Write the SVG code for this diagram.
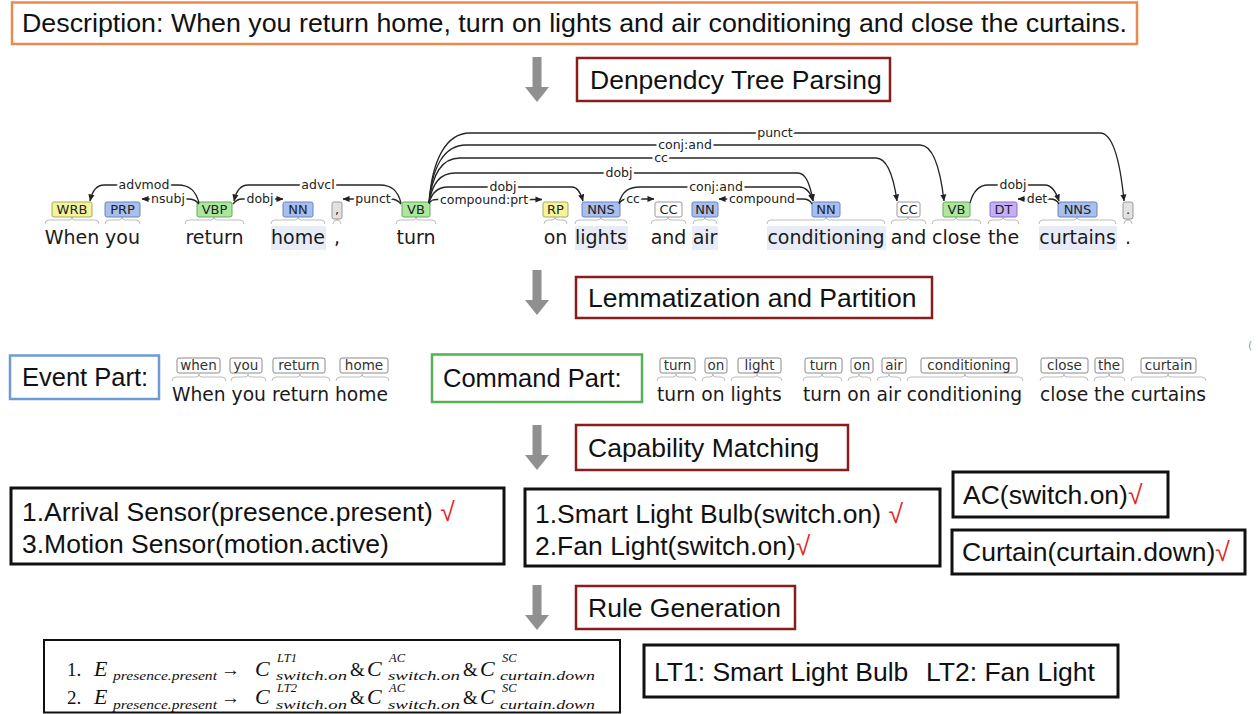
<svg xmlns="http://www.w3.org/2000/svg" width="1259" height="714" viewBox="0 0 1259 714">
  <style>
    .sans { font-family: "Liberation Sans", Arial, sans-serif; fill: #111; }
    .big { font-size: 26.5px; }
    .step { fill: #fff; stroke: #8b1c1c; stroke-width: 2.5; }
    .cap { fill: #fff; stroke: #111; stroke-width: 3; }
    .down { fill: #909090; }
    .chk { fill: #e02828; }
    .dv { font-family: "DejaVu Sans", Verdana, sans-serif; }
    .word { font-size: 19px; fill: #1a1a1a; text-anchor: middle; }
    .lword { font-size: 18.7px; fill: #1a1a1a; }
    .tag { font-size: 13px; fill: #222; text-anchor: middle; }
    .ltag { font-size: 13.5px; fill: #333; text-anchor: middle; }
    .ltagbox { fill: #fff; stroke: #8a8a8a; stroke-width: 1; }
    .brace { fill: none; stroke: #bdbdbd; stroke-width: 1; }
    .arc { fill: none; stroke: #262626; stroke-width: 1.3; }
    .arclbl { font-size: 12.5px; fill: #222; text-anchor: middle; stroke: #fff; stroke-width: 5; paint-order: stroke; stroke-linejoin: round; }
    .t-wrb { fill: #f4f49a; stroke: #a8a860; }
    .t-nn { fill: #a8bfee; stroke: #6a82c2; }
    .t-vb { fill: #abe89e; stroke: #68a55c; }
    .t-cc { fill: #fff; stroke: #999; }
    .t-dt { fill: #c7aff5; stroke: #8a6fcf; }
    .t-pu { fill: #e2e2e2; stroke: #999; }
    .tb { stroke-width: 1; }
    .hl { fill: #e7ecf7; }
    .serif { font-family: "Liberation Serif", "Times New Roman", serif; fill: #111; }
    .m { font-size: 19px; }
    .mi { font-size: 22px; font-style: italic; }
    .sub { font-size: 13px; font-style: italic; }
    .sup { font-size: 12.5px; font-style: italic; }
  </style>
  <defs>
    <marker id="ah" viewBox="0 0 8 8" refX="7.5" refY="4" markerWidth="7" markerHeight="7" markerUnits="userSpaceOnUse" orient="auto">
      <path d="M0,0.5 L8,4 L0,7.5 z" fill="#222"/>
    </marker>
    <path id="downArrow" d="M-4.5,0 H4.5 V30 H12 L0,45 L-12,30 H-4.5 Z"/>
  </defs>

  <rect width="1259" height="714" fill="#fff"/>

  <!-- sentence -->
  <g id="description">
    <rect x="12" y="2.5" width="1125" height="41.5" fill="#fff" stroke="#ea8a4c" stroke-width="2.5"/>
    <text class="sans" x="22" y="32" font-size="25" textLength="1105" lengthAdjust="spacingAndGlyphs">Description: When you return home, turn on lights and air conditioning and close the curtains.</text>
  </g>

  <!-- process steps -->
  <g id="step-parse">
    <use href="#downArrow" x="537" y="57" class="down"/>
    <rect class="step" x="577" y="58" width="313" height="43"/>
    <text class="sans big" x="590" y="89">Denpendcy Tree Parsing</text>
  </g>
  <g id="step-lemma">
    <use href="#downArrow" x="537" y="270" class="down"/>
    <rect class="step" x="576" y="277" width="356" height="41"/>
    <text class="sans big" x="588" y="307">Lemmatization and Partition</text>
  </g>
  <g id="step-capability">
    <use href="#downArrow" x="537" y="425" class="down"/>
    <rect class="step" x="576" y="425" width="272" height="45"/>
    <text class="sans big" x="588" y="457">Capability Matching</text>
  </g>
  <g id="step-rule">
    <use href="#downArrow" x="537" y="585" class="down"/>
    <rect class="step" x="576" y="586" width="219" height="43"/>
    <text class="sans big" x="588" y="617">Rule Generation</text>
  </g>

  <!-- dependency tree: token highlights -->
  <g id="token-highlights">
    <rect class="hl" x="271" y="226" width="55" height="24"/>
    <rect class="hl" x="575" y="226" width="53" height="24"/>
    <rect class="hl" x="692" y="226" width="26" height="24"/>
    <rect class="hl" x="767" y="226" width="119" height="24"/>
    <rect class="hl" x="1039" y="226" width="78" height="24"/>
  </g>

  <!-- dependency tree: tag-to-token braces -->
  <g id="token-braces" class="brace">
    <path d="M45,224 Q45,220 49,220 H69 Q72,220 72,217 Q72,220 75,220 H95 Q99,220 99,224"/>
    <path d="M105,224 Q105,220 109,220 H119 Q122,220 122,217 Q122,220 125,220 H136 Q140,220 140,224"/>
    <path d="M185,224 Q185,220 189,220 H211 Q214,220 214,217 Q214,220 217,220 H240 Q244,220 244,224"/>
    <path d="M271,224 Q271,220 275,220 H295 Q298,220 298,217 Q298,220 301,220 H321 Q325,220 325,224"/>
    <path d="M333,224 Q333,220 337,220 Q337,220 337,218 Q337,220 337,220 Q341,220 341,224"/>
    <path d="M396,224 Q396,220 400,220 H413 Q416,220 416,217 Q416,220 419,220 H432 Q436,220 436,224"/>
    <path d="M544,224 Q544,220 548,220 H552 Q555,220 555,217 Q555,220 558,220 H563 Q567,220 567,224"/>
    <path d="M575,224 Q575,220 579,220 H598 Q601,220 601,217 Q601,220 604,220 H623 Q627,220 627,224"/>
    <path d="M651,224 Q651,220 655,220 H665 Q668,220 668,217 Q668,220 671,220 H682 Q686,220 686,224"/>
    <path d="M693,224 Q693,220 697,220 H702 Q705,220 705,217 Q705,220 708,220 H713 Q717,220 717,224"/>
    <path d="M767,224 Q767,220 771,220 H823 Q826,220 826,217 Q826,220 829,220 H881 Q885,220 885,224"/>
    <path d="M891,224 Q891,220 895,220 H905 Q908,220 908,217 Q908,220 911,220 H922 Q926,220 926,224"/>
    <path d="M932,224 Q932,220 936,220 H953 Q956,220 956,217 Q956,220 959,220 H977 Q981,220 981,224"/>
    <path d="M988,224 Q988,220 992,220 H1000 Q1003,220 1003,217 Q1003,220 1006,220 H1015 Q1019,220 1019,224"/>
    <path d="M1039,224 Q1039,220 1043,220 H1074 Q1077,220 1077,217 Q1077,220 1080,220 H1112 Q1116,220 1116,224"/>
    <path d="M1124,224 Q1124,220 1128,220 Q1128,220 1128,218 Q1128,220 1128,220 Q1132,220 1132,224"/>
  </g>

  <!-- dependency tree: part-of-speech tags -->
  <g id="pos-tags" class="dv">
    <g id="tag-when"><rect class="t-wrb tb" x="52" y="202" width="40" height="15" rx="2"/><text class="tag" x="72" y="214">WRB</text></g>
    <g id="tag-you"><rect class="t-nn tb" x="105" y="202" width="35" height="15" rx="2"/><text class="tag" x="122.5" y="214">PRP</text></g>
    <g id="tag-return"><rect class="t-vb tb" x="197" y="202" width="35" height="15" rx="2"/><text class="tag" x="214.5" y="214">VBP</text></g>
    <g id="tag-home"><rect class="t-nn tb" x="283" y="202" width="30" height="15" rx="2"/><text class="tag" x="298" y="214">NN</text></g>
    <g id="tag-comma"><rect class="t-pu tb" x="332" y="202" width="10" height="17" rx="2"/><text class="tag" x="337" y="214">,</text></g>
    <g id="tag-turn"><rect class="t-vb tb" x="402" y="202" width="28" height="15" rx="2"/><text class="tag" x="416" y="214">VB</text></g>
    <g id="tag-on"><rect class="t-wrb tb" x="543" y="202" width="25" height="15" rx="2"/><text class="tag" x="555.5" y="214">RP</text></g>
    <g id="tag-lights"><rect class="t-nn tb" x="582" y="202" width="38" height="15" rx="2"/><text class="tag" x="601" y="214">NNS</text></g>
    <g id="tag-and1"><rect class="t-cc tb" x="655" y="202" width="27" height="15" rx="2"/><text class="tag" x="668.5" y="214">CC</text></g>
    <g id="tag-air"><rect class="t-nn tb" x="692" y="202" width="26" height="15" rx="2"/><text class="tag" x="705" y="214">NN</text></g>
    <g id="tag-conditioning"><rect class="t-nn tb" x="812" y="202" width="28" height="15" rx="2"/><text class="tag" x="826" y="214">NN</text></g>
    <g id="tag-and2"><rect class="t-cc tb" x="897" y="202" width="23" height="15" rx="2"/><text class="tag" x="908.5" y="214">CC</text></g>
    <g id="tag-close"><rect class="t-vb tb" x="943" y="202" width="27" height="15" rx="2"/><text class="tag" x="956.5" y="214">VB</text></g>
    <g id="tag-the"><rect class="t-dt tb" x="990" y="202" width="27" height="15" rx="2"/><text class="tag" x="1003.5" y="214">DT</text></g>
    <g id="tag-curtains"><rect class="t-nn tb" x="1058" y="202" width="39" height="15" rx="2"/><text class="tag" x="1077.5" y="214">NNS</text></g>
    <g id="tag-period"><rect class="t-pu tb" x="1123" y="202" width="10" height="17" rx="2"/><text class="tag" x="1128" y="214">.</text></g>
  </g>

  <!-- dependency tree: tokens -->
  <g id="tokens" class="dv">
    <text class="word" x="72" y="244">When</text>
    <text class="word" x="122.5" y="244">you</text>
    <text class="word" x="214.5" y="244">return</text>
    <text class="word" x="298" y="244">home</text>
    <text class="word" x="337" y="244">,</text>
    <text class="word" x="416" y="244">turn</text>
    <text class="word" x="555.5" y="244">on</text>
    <text class="word" x="601" y="244">lights</text>
    <text class="word" x="668.5" y="244">and</text>
    <text class="word" x="705" y="244">air</text>
    <text class="word" x="826" y="244">conditioning</text>
    <text class="word" x="908.5" y="244">and</text>
    <text class="word" x="956.5" y="244">close</text>
    <text class="word" x="1003.5" y="244">the</text>
    <text class="word" x="1077.5" y="244">curtains</text>
    <text class="word" x="1128" y="244">.</text>
  </g>

  <!-- dependency arcs -->
  <g id="dependency-arcs">
    <g class="arc" marker-end="url(#ah)">
      <path d="M199,203 C196,191 190,185 178,185 H104 C96,185 92,192 90,201"/>
      <path d="M199,204 C196,200 193,199 188,199 H142"/>
      <path d="M233,204 C236,200 238,199 242,199 H283"/>
      <path d="M401,203 C398,191 392,185 380,185 H248 C240,185 236,192 234,201"/>
      <path d="M401,204 C398,200 395,199 390,199 H343"/>
      <path d="M429,204 C431,200 433,199.5 437,199.5 H542"/>
      <path d="M429,203 C432,192 438,187 448,187 H572 C578,187 581,194 583,201"/>
      <path d="M429,203 C432,183 440,173 455,173 H798 C807,173 811,189 813,201"/>
      <path d="M429,203 C432,175 442,158 460,158 H876 C888,158 894,180 897,201"/>
      <path d="M429,203 C432,167 444,145 466,145 H920 C935,145 941,175 944,201"/>
      <path d="M429,203 C432,160 446,133 470,133 H1100 C1115,133 1121,170 1124,201"/>
      <path d="M619,203 C622,192 628,187 640,187 H799 C807,187 811,194 813,201"/>
      <path d="M619,204 C621,200 623,199 627,199 H654"/>
      <path d="M812,204 C810,200 807,199 803,199 H719"/>
      <path d="M970,203 C973,192 978,185 988,185 H1045 C1052,185 1056,192 1059,201"/>
      <path d="M1059,204 C1057,200 1054,199 1050,199 H1018"/>
    </g>
    <g class="dv">
      <text class="arclbl" x="144" y="189">advmod</text>
      <text class="arclbl" x="168" y="203">nsubj</text>
      <text class="arclbl" x="260" y="203">dobj</text>
      <text class="arclbl" x="318" y="189">advcl</text>
      <text class="arclbl" x="373" y="203">punct</text>
      <text class="arclbl" x="484" y="203.5">compound:prt</text>
      <text class="arclbl" x="503" y="191">dobj</text>
      <text class="arclbl" x="619" y="177">dobj</text>
      <text class="arclbl" x="661" y="162">cc</text>
      <text class="arclbl" x="685" y="149">conj:and</text>
      <text class="arclbl" x="775" y="137">punct</text>
      <text class="arclbl" x="716" y="191">conj:and</text>
      <text class="arclbl" x="633" y="203">cc</text>
      <text class="arclbl" x="762" y="203">compound</text>
      <text class="arclbl" x="1013" y="189">dobj</text>
      <text class="arclbl" x="1037" y="203">det</text>
    </g>
  </g>

  <!-- partition: event part -->
  <g id="event-part">
    <rect x="10" y="355.5" width="149" height="43.5" fill="#fff" stroke="#6c9bd6" stroke-width="2.5"/>
    <text class="sans" x="22" y="386" font-size="25.5">Event Part:</text>
    <g class="dv">
      <rect class="ltagbox" x="177" y="358" width="43" height="15" rx="2"/><text class="ltag" x="198.5" y="370">when</text>
      <rect class="ltagbox" x="230" y="358" width="32" height="15" rx="2"/><text class="ltag" x="246" y="370">you</text>
      <rect class="ltagbox" x="273" y="358" width="52" height="15" rx="2"/><text class="ltag" x="299" y="370">return</text>
      <rect class="ltagbox" x="340" y="358" width="48" height="15" rx="2"/><text class="ltag" x="364" y="370">home</text>
      <g class="brace">
        <path d="M172,381 Q172,377 176,377 H196 Q199,377 199,374 Q199,377 202,377 H222 Q226,377 226,381"/>
        <path d="M231,381 Q231,377 235,377 H245 Q248,377 248,374 Q248,377 251,377 H262 Q266,377 266,381"/>
        <path d="M272,381 Q272,377 276,377 H297 Q300,377 300,374 Q300,377 303,377 H326 Q330,377 330,381"/>
        <path d="M336,381 Q336,377 340,377 H359 Q362,377 362,374 Q362,377 365,377 H385 Q389,377 389,381"/>
      </g>
      <text class="lword" x="172" y="401">When you return home</text>
    </g>
  </g>

  <!-- partition: command part -->
  <g id="command-part">
    <rect x="432" y="354.5" width="210" height="47.5" fill="#fff" stroke="#56b056" stroke-width="2.5"/>
    <text class="sans" x="443" y="387" font-size="25.5">Command Part:</text>
    <g class="dv">
      <rect class="ltagbox" x="660" y="358" width="35" height="15" rx="2"/><text class="ltag" x="677.5" y="370">turn</text>
      <rect class="ltagbox" x="705" y="358" width="22" height="15" rx="2"/><text class="ltag" x="716" y="370">on</text>
      <rect class="ltagbox" x="738" y="358" width="43" height="15" rx="2"/><text class="ltag" x="759.5" y="370">light</text>
      <rect class="ltagbox" x="805" y="358" width="37" height="15" rx="2"/><text class="ltag" x="823.5" y="370">turn</text>
      <rect class="ltagbox" x="851" y="358" width="22" height="15" rx="2"/><text class="ltag" x="862" y="370">on</text>
      <rect class="ltagbox" x="882" y="358" width="24" height="15" rx="2"/><text class="ltag" x="894" y="370">air</text>
      <rect class="ltagbox" x="921" y="358" width="96" height="15" rx="2"/><text class="ltag" x="969" y="370">conditioning</text>
      <rect class="ltagbox" x="1041" y="358" width="47" height="15" rx="2"/><text class="ltag" x="1064.5" y="370">close</text>
      <rect class="ltagbox" x="1095" y="358" width="28" height="15" rx="2"/><text class="ltag" x="1109" y="370">the</text>
      <rect class="ltagbox" x="1141" y="358" width="55" height="15" rx="2"/><text class="ltag" x="1168.5" y="370">curtain</text>
      <g class="brace">
        <path d="M657,381 Q657,377 661,377 H673 Q676,377 676,374 Q676,377 679,377 H692 Q696,377 696,381"/>
        <path d="M702,381 Q702,377 706,377 H710 Q713,377 713,374 Q713,377 716,377 H721 Q725,377 725,381"/>
        <path d="M731,381 Q731,377 735,377 H754 Q757,377 757,374 Q757,377 760,377 H778 Q782,377 782,381"/>
        <path d="M803,381 Q803,377 807,377 H819 Q822,377 822,374 Q822,377 825,377 H838 Q842,377 842,381"/>
        <path d="M848,381 Q848,377 852,377 H856 Q859,377 859,374 Q859,377 862,377 H867 Q871,377 871,381"/>
        <path d="M877,381 Q877,377 881,377 H886 Q889,377 889,374 Q889,377 892,377 H897 Q901,377 901,381"/>
        <path d="M907,381 Q907,377 911,377 H962 Q965,377 965,374 Q965,377 968,377 H1019 Q1023,377 1023,381"/>
        <path d="M1040,381 Q1040,377 1044,377 H1061 Q1064,377 1064,374 Q1064,377 1067,377 H1084 Q1088,377 1088,381"/>
        <path d="M1094,381 Q1094,377 1098,377 H1106 Q1109,377 1109,374 Q1109,377 1112,377 H1121 Q1125,377 1125,381"/>
        <path d="M1131,381 Q1131,377 1135,377 H1165 Q1168,377 1168,374 Q1168,377 1171,377 H1202 Q1206,377 1206,381"/>
      </g>
      <text class="lword" x="657" y="401">turn on lights</text>
      <text class="lword" x="803" y="401">turn on air conditioning</text>
      <text class="lword" x="1040" y="401">close the curtains</text>
    </g>
    <text x="1248" y="349" font-family="DejaVu Sans, sans-serif" font-size="11" fill="#9a9a9a">(</text>
  </g>

  <!-- capability matching results -->
  <g id="event-devices">
    <rect class="cap" x="11" y="488" width="493" height="76"/>
    <text class="sans big" x="22" y="521">1.Arrival Sensor(presence.present) <tspan class="chk">√</tspan></text>
    <text class="sans big" x="22" y="553">3.Motion Sensor(motion.active)</text>
  </g>
  <g id="light-devices">
    <rect class="cap" x="525" y="489" width="415" height="77"/>
    <text class="sans big" x="535" y="523">1.Smart Light Bulb(switch.on) <tspan class="chk">√</tspan></text>
    <text class="sans big" x="535" y="555">2.Fan Light(switch.on)<tspan class="chk">√</tspan></text>
  </g>
  <g id="ac-device">
    <rect class="cap" x="953" y="472" width="215" height="45"/>
    <text class="sans big" x="963" y="504">AC(switch.on)<tspan class="chk">√</tspan></text>
  </g>
  <g id="curtain-device">
    <rect class="cap" x="952" y="530" width="293" height="44"/>
    <text class="sans big" x="962" y="561">Curtain(curtain.down)<tspan class="chk">√</tspan></text>
  </g>

  <!-- generated rules -->
  <g id="rules">
    <rect x="44" y="640" width="576" height="72.5" fill="#fff" stroke="#111" stroke-width="2"/>
    <g class="serif">
      <text class="m" x="67" y="676">1.</text>
      <text class="mi" x="94" y="676">E</text>
      <text class="sub" x="113" y="680" textLength="104" lengthAdjust="spacingAndGlyphs">presence.present</text>
      <text class="m" x="221" y="676">→</text>
      <text class="mi" x="255" y="676">C</text>
      <text class="sup" x="277" y="662">LT1</text>
      <text class="sub" x="276" y="680" textLength="71" lengthAdjust="spacingAndGlyphs">switch.on</text>
      <text class="m" x="350" y="676">&amp;</text>
      <text class="mi" x="367" y="676">C</text>
      <text class="sup" x="389" y="662">AC</text>
      <text class="sub" x="388" y="680" textLength="72" lengthAdjust="spacingAndGlyphs">switch.on</text>
      <text class="m" x="463" y="676">&amp;</text>
      <text class="mi" x="480" y="676">C</text>
      <text class="sup" x="502" y="662">SC</text>
      <text class="sub" x="500" y="680" textLength="95" lengthAdjust="spacingAndGlyphs">curtain.down</text>

      <text class="m" x="67" y="704">2.</text>
      <text class="mi" x="94" y="704">E</text>
      <text class="sub" x="113" y="709" textLength="104" lengthAdjust="spacingAndGlyphs">presence.present</text>
      <text class="m" x="221" y="704">→</text>
      <text class="mi" x="255" y="704">C</text>
      <text class="sup" x="277" y="692">LT2</text>
      <text class="sub" x="276" y="709" textLength="71" lengthAdjust="spacingAndGlyphs">switch.on</text>
      <text class="m" x="350" y="704">&amp;</text>
      <text class="mi" x="367" y="704">C</text>
      <text class="sup" x="389" y="692">AC</text>
      <text class="sub" x="388" y="709" textLength="72" lengthAdjust="spacingAndGlyphs">switch.on</text>
      <text class="m" x="463" y="704">&amp;</text>
      <text class="mi" x="480" y="704">C</text>
      <text class="sup" x="502" y="692">SC</text>
      <text class="sub" x="500" y="709" textLength="95" lengthAdjust="spacingAndGlyphs">curtain.down</text>
    </g>
  </g>
  <g id="legend">
    <rect class="cap" x="644" y="645" width="474" height="52"/>
    <text class="sans big" x="654" y="681">LT1: Smart Light Bulb</text>
    <text class="sans big" x="926" y="681">LT2: Fan Light</text>
  </g>
</svg>
